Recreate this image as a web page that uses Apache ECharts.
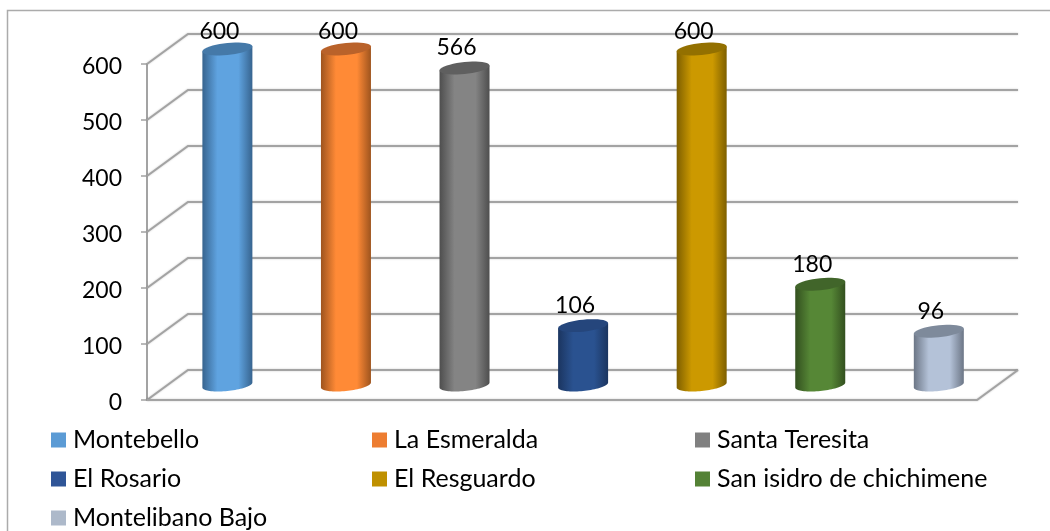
<!DOCTYPE html>
<html>
<head>
<meta charset="utf-8">
<style>html,body{margin:0;padding:0;background:#fff}#c{width:1050px;height:531px}</style>
<script src="https://cdn.jsdelivr.net/npm/echarts@6/dist/echarts.min.js"></script>
</head>
<body>
<div id="c"></div>
<script>
const categories = ['Montebello','La Esmeralda','Santa Teresita','El Rosario','El Resguardo','San isidro de chichimene','Montelibano Bajo'];
const values = [600,600,566,106,600,180,96];
const ticks = [0,100,200,300,400,500,600];
const legendColors = ['#5B9BD5','#ED7D31','#808080','#2F5597','#BF9000','#548235','#ADB9CA'];
const centerColors = ['#5FA3E0','#FF8A36','#848484','#2A5290','#CC9900','#568736','#B4C2D8'];
const edgeColors = ['#37648F','#9E541E','#4E4E4E','#1B3560','#7E5F00','#33501F','#6C7686'];
const topColors = ['#4579A8','#B9622A','#5F5F5F','#25467C','#937000','#41652A','#7E8A9B'];

const FONT = 'Lato, Carlito, "Open Sans", sans-serif';
const DX = 41, DY = -30;          // depth of the 3D box
const A = 25, B = 6, S = 2.5;     // cylinder top ellipse

function ellipsePts(cx, cy, t0, t1) {
  const pts = [], n = 40;
  for (let i = 0; i <= n; i++) {
    const t = t0 + (t1 - t0) * i / n;
    pts.push([cx + A * Math.cos(t), cy - S * Math.cos(t) + B * Math.sin(t)]);
  }
  return pts;
}
function renderCylinder(colorIdx) {
  return function (params, api) {
    const v = api.value(1);
    const p = api.coord([api.value(0), v]);
    const p0 = api.coord([api.value(0), 0]);
    const cx = p[0] + DX / 2 + 0.6;
    const cyTop = p[1] + DY / 2;
    const cyBase = p0[1] + DY / 2;
    const side = [[cx - A, cyTop + S]].concat(
      ellipsePts(cx, cyBase, Math.PI, 0),
      [[cx + A, cyTop - S]]
    );
    const grad = new echarts.graphic.LinearGradient(0, 0, 1, 0, [
      {offset: 0, color: edgeColors[colorIdx]},
      {offset: 0.3, color: centerColors[colorIdx]},
      {offset: 0.72, color: centerColors[colorIdx]},
      {offset: 1, color: edgeColors[colorIdx]}
    ]);
    return {
      type: 'group',
      children: [
        {type: 'polygon', shape: {points: side}, style: {fill: grad}},
        {type: 'polygon', shape: {points: ellipsePts(cx, cyTop, 0, Math.PI * 2)}, style: {fill: topColors[colorIdx]}},
        {type: 'text', style: {
          text: String(v), x: cx - 8, y: Math.max(cyTop - 20, 32),
          textAlign: 'center', textVerticalAlign: 'middle',
          font: '23px ' + FONT, fill: '#000'
        }}
      ]
    };
  };
}
function renderWall(params, api) {
  const t = api.value(0);
  const a = api.coord([0, t]);
  const left = params.coordSys.x, right = left + params.coordSys.width;
  const style = {stroke: '#A3A3A3', lineWidth: 2, fill: null, shadowColor: 'rgba(0,0,0,0.22)', shadowBlur: 2};
  const children = [{type: 'polyline', shape: {points: [[left, a[1]], [left + DX, a[1] + DY], [right + DX, a[1] + DY]]}, style}];
  if (t === 0) {
    children.push({type: 'polyline', shape: {points: [[left, a[1]], [right, a[1]], [right + DX, a[1] + DY]]}, style});
  }
  return {type: 'group', children};
}

const series = [{
  type: 'custom', name: 'wall', silent: true, z: 1,
  data: ticks.map(t => [t]), encode: {y: 0},
  renderItem: renderWall
}].concat(categories.map((c, i) => ({
  type: 'custom', name: c, z: 3,
  itemStyle: {color: legendColors[i]},
  data: [[i, values[i]]], encode: {x: 0, y: 1},
  renderItem: renderCylinder(i)
})));

function legend(left, names) {
  return {
    left, top: 427, height: 104, orient: 'vertical', padding: 0,
    itemWidth: 15, itemHeight: 15, itemGap: 13, icon: 'rect',
    data: names, selectedMode: false,
    textStyle: {fontFamily: FONT, fontSize: 25, color: '#000', padding: [0, 0, 0, 2], lineHeight: 26}
  };
}

const chart = echarts.init(document.getElementById('c'), null, {renderer: 'canvas'});
chart.setOption({
  animation: false,
  backgroundColor: '#fff',
  grid: {left: 147, right: 73, top: 64, bottom: 131, containLabel: false},
  xAxis: {type: 'category', data: categories, axisLine: {show: false}, axisTick: {show: false}, axisLabel: {show: false}, splitLine: {show: false}},
  yAxis: {
    type: 'value', min: 0, max: 600, interval: 100,
    axisLine: {show: true, lineStyle: {color: '#A3A3A3', width: 2}},
    axisTick: {show: true, length: 6, lineStyle: {color: '#A3A3A3', width: 1.5}},
    axisLabel: {fontFamily: FONT, fontSize: 23, color: '#000', margin: 25, verticalAlign: 'top', lineHeight: 6, showMinLabel: true, showMaxLabel: true},
    splitLine: {show: false}
  },
  legend: [
    legend(51, [categories[0], categories[3], categories[6]]),
    legend(372, [categories[1], categories[4]]),
    legend(695, [categories[2], categories[5]])
  ],
  graphic: [
    {type: 'polyline', silent: true, shape: {points: [[7.5, 531], [7.5, 10.5], [1050, 10.5]]}, style: {stroke: '#ABABAB', lineWidth: 1.5, fill: null}, z: 0}
  ],
  series
});
</script>
</body>
</html>
